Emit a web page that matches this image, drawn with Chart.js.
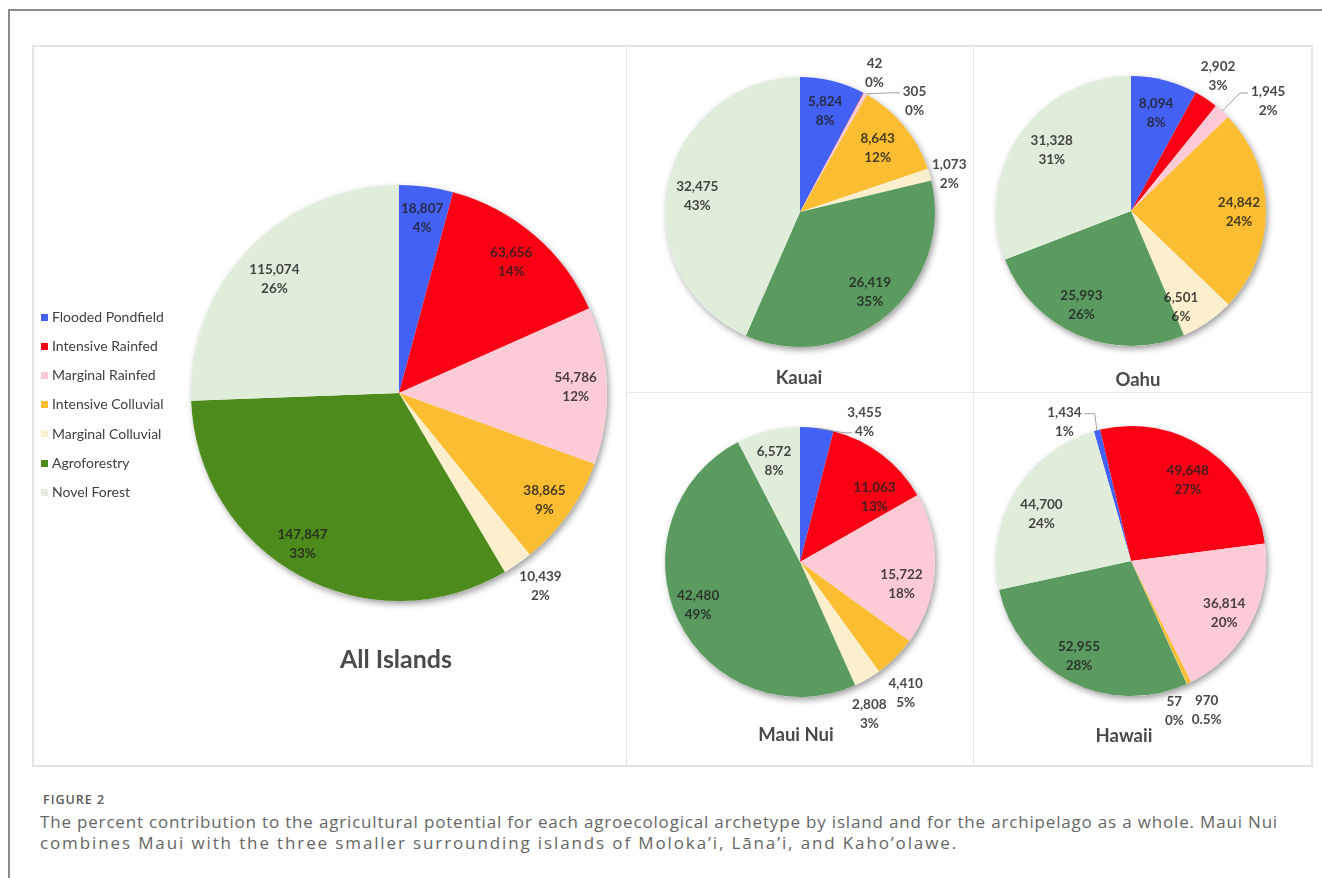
<!DOCTYPE html>
<html>
<head>
<meta charset="utf-8">
<script src="https://cdn.jsdelivr.net/npm/chart.js@4.4.1/dist/chart.umd.min.js"></script>
<style>
  body { margin: 0; background: #fff; width: 1322px; height: 878px; overflow: hidden; position: relative; font-family: Lato, sans-serif; }
  #frame { position: absolute; left: 8px; top: 9px; width: 1400px; height: 900px; border-left: 2px solid #8c8c8c; border-top: 2px solid #8c8c8c; }
  #panel { position: absolute; left: 32px; top: 45px; width: 1277px; height: 718px; border: 2px solid #e4e4e4; }
  .vline { position: absolute; top: 45px; width: 1px; height: 720px; background: #e6e6e6; }
  .hline { position: absolute; left: 626px; top: 392px; width: 685px; height: 1px; background: #e6e6e6; }
  canvas { position: absolute; }
  .title { position: absolute; width: 240px; text-align: center; font-weight: bold; color: #4a4a4a; white-space: nowrap; }
  #legend { position: absolute; left: 40px; top: 0; }
  .item { position: absolute; left: 0; white-space: nowrap; font-size: 14px; line-height: 14px; color: #404040; }
  .item span.sw { position: absolute; left: 1px; width: 7px; height: 7px; }
  .item span.tx { position: absolute; left: 12px; top: 0; }
  #fig { position: absolute; left: 43px; top: 794px; font-family: "Open Sans", sans-serif; font-weight: 600; font-size: 12.5px; line-height: 12px; letter-spacing: 1px; color: #5a5a5a; }
  .cap { position: absolute; left: 40px; font-family: "Open Sans", sans-serif; font-weight: 400; font-size: 17px; line-height: 21px; color: #666; white-space: nowrap; }
</style>
</head>
<body>
<div id="frame"></div>
<div id="panel"></div>
<div class="vline" style="left:626px"></div>
<div class="vline" style="left:973px"></div>
<div class="hline"></div>

<canvas id="allChart" width="600" height="600" style="left:99px;top:93px"></canvas>
<canvas id="kauaiChart" width="360" height="360" style="left:620px;top:32px"></canvas>
<canvas id="oahuChart" width="360" height="360" style="left:951px;top:31px"></canvas>
<canvas id="mauiChart" width="360" height="360" style="left:620px;top:382px"></canvas>
<canvas id="hawaiiChart" width="360" height="360" style="left:951px;top:381px"></canvas>

<div id="legend"></div>

<div class="title" style="left:276px;top:646px;font-size:25px;line-height:25px">All Islands</div>
<div class="title" style="left:679px;top:368px;font-size:18.5px;line-height:18.5px">Kauai</div>
<div class="title" style="left:1018px;top:370px;font-size:18.5px;line-height:18.5px">Oahu</div>
<div class="title" style="left:676px;top:725px;font-size:18.5px;line-height:18.5px">Maui Nui</div>
<div class="title" style="left:1004px;top:726px;font-size:18.5px;line-height:18.5px">Hawaii</div>

<div id="fig">FIGURE 2</div>
<div class="cap" id="cap1" style="top:811px">The percent contribution to the agricultural potential for each agroecological archetype by island and for the archipelago as a whole. Maui Nui</div>
<div class="cap" id="cap2" style="top:832px">combines Maui with the three smaller surrounding islands of Moloka’i, Lāna’i, and Kaho’olawe.</div>

<script>
// Categories (legend order = slice order, clockwise from top)
const categories = ['Flooded Pondfield', 'Intensive Rainfed', 'Marginal Rainfed', 'Intensive Colluvial',
                    'Marginal Colluvial', 'Agroforestry', 'Novel Forest'];

// Areas per island
const allIslands = [18807, 63656, 54786, 38865, 10439, 147847, 115074];
const kauai      = [5824, 42, 305, 8643, 1073, 26419, 32475];
const oahu       = [8094, 2902, 1945, 24842, 6501, 25993, 31328];
const mauiNui    = [3455, 11063, 15722, 4410, 2808, 42480, 6572];
const hawaii     = [1434, 49648, 36814, 970, 57, 52955, 44700];

// Percent labels as printed
const allIslandsPct = ['4%', '14%', '12%', '9%', '2%', '33%', '26%'];
const kauaiPct      = ['8%', '0%', '0%', '12%', '2%', '35%', '43%'];
const oahuPct       = ['8%', '3%', '2%', '24%', '6%', '26%', '31%'];
const mauiNuiPct    = ['4%', '13%', '18%', '5%', '3%', '49%', '8%'];
const hawaiiPct     = ['1%', '27%', '20%', '0.5%', '0%', '28%', '24%'];

// Colours
const islandColors = ['#4461f5', '#fa0015', '#fdcbd5', '#fbbd31', '#fcefcd', '#5c9b5f', '#e0eddb'];
const allColors    = ['#4461f5', '#fa0015', '#fdcbd5', '#fbbd31', '#fcefcd', '#4d8c1c', '#e0eddb'];

// Label placement: radius factor and angle shift (deg) from slice middle
const allLayout    = { r: [0.85, 0.83, 0.85, 0.87, 1.15, 0.86, 0.81], a: [0, 0, 0, 1, -1.5, 4, -1.6] };
const kauaiLayout  = { r: [0.77, 1.17, 1.18, 0.745, 1.14, 0.79, 0.77], a: [0, 0, 17, 0, 2, -1, -3], leader: { 2: 'left0' } };
const oahuLayout   = { r: [0.75, 1.19, 1.3, 0.8, 0.8, 0.79, 0.74], a: [0, -1, 9, 1, 7, 4.7, 3], leader: { 2: 'left0' } };
const mauiLayout   = { r: [1.14, 0.73, 0.77, 1.25, 1.24, 0.82, 0.77], a: [17.6, 11.7, 9.3, 6.2, 5.5, 2.7, -0.8], leader: { 0: 'left1' } };
const hawaiiLayout = { r: [1.14, 0.73, 0.79, 1.24, 1.16, 0.8, 0.75], a: [-11, 0.5, 1, -1.4, 8.4, 2.1, -3], leader: { 0: 'right0' } };

const LINE_H = 19;

// soft shadow under the whole pie
const pieShadow = {
    id: 'pieShadow',
    beforeDatasetsDraw(chart) {
        const arc = chart.getDatasetMeta(0).data[0];
        const p = arc.getProps(['x', 'y', 'outerRadius'], true);
        const ctx = chart.ctx;
        ctx.save();
        ctx.beginPath();
        ctx.arc(p.x, p.y, p.outerRadius, 0, Math.PI * 2);
        ctx.fillStyle = '#ffffff';
        ctx.shadowColor = 'rgba(0,0,0,0.38)';
        ctx.shadowBlur = 6;
        ctx.shadowOffsetX = 2;
        ctx.shadowOffsetY = 3;
        ctx.fill();
        ctx.restore();
    }
};

function labelPlugin(pct, layout) {
    return {
        id: 'pieLabels',
        afterDatasetsDraw(chart) {
            const ctx = chart.ctx;
            const values = chart.data.datasets[0].data;
            ctx.save();
            ctx.font = 'bold 13.5px Lato';
            ctx.textAlign = 'center';
            ctx.textBaseline = 'middle';
            chart.getDatasetMeta(0).data.forEach((arc, i) => {
                const p = arc.getProps(['x', 'y', 'startAngle', 'endAngle', 'outerRadius'], true);
                const mid = (p.startAngle + p.endAngle) / 2;
                const ang = mid + layout.a[i] * Math.PI / 180;
                const rr = p.outerRadius * layout.r[i];
                const lx = p.x + Math.cos(ang) * rr;
                const ly = p.y + Math.sin(ang) * rr;
                const lines = [values[i].toLocaleString('en-US'), pct[i]];
                const ys = [ly - LINE_H / 2, ly + LINE_H / 2];

                const lead = layout.leader && layout.leader[i];
                if (lead) {
                    const k = lead.endsWith('1') ? 1 : 0;
                    const w = ctx.measureText(lines[k]).width;
                    const sx = p.x + Math.cos(mid) * p.outerRadius;
                    const sy = p.y + Math.sin(mid) * p.outerRadius;
                    let ex, bx;
                    if (lead.startsWith('left')) { ex = lx - w / 2 - 3; bx = ex - 8; }
                    else { ex = lx + w / 2 + 3; bx = ex + 10; }
                    const ey = ys[k] + 1;
                    ctx.beginPath();
                    ctx.moveTo(sx, sy);
                    ctx.lineTo(bx, ey);
                    ctx.lineTo(ex, ey);
                    ctx.strokeStyle = '#a0a0a0';
                    ctx.lineWidth = 1;
                    ctx.stroke();
                }
                ctx.fillStyle = 'rgba(32,32,32,0.82)';
                lines.forEach((t, k) => ctx.fillText(t, lx, ys[k]));
            });
            ctx.restore();
        }
    };
}

function makePie(id, values, pct, colors, layout, radius, rotation) {
    new Chart(document.getElementById(id), {
        type: 'pie',
        data: {
            labels: categories,
            datasets: [{
                data: values,
                backgroundColor: colors,
                borderWidth: 0,
                radius: radius,
                rotation: rotation
            }]
        },
        options: {
            responsive: false,
            animation: false,
            events: [],
            radius: radius,
            rotation: rotation,
            plugins: {
                legend: { display: false },
                tooltip: { enabled: false }
            }
        },
        plugins: [pieShadow, labelPlugin(pct, layout)]
    });
}

// legend
const legend = document.getElementById('legend');
categories.forEach((c, i) => {
    const y = 317.3 + 29.17 * i;
    const item = document.createElement('div');
    item.className = 'item';
    item.style.top = (y - 7.4) + 'px';
    item.innerHTML = '<span class="sw" style="top:3.9px;background:' + allColors[i] + '"></span><span class="tx">' + c + '</span>';
    legend.appendChild(item);
});

// stretch caption lines to the width they take in the figure
function fitLine(id, target) {
    const el = document.getElementById(id);
    const n = el.textContent.length;
    const w = el.getBoundingClientRect().width;
    el.style.letterSpacing = ((target - w) / n) + 'px';
}
fitLine('cap1', 1238);
fitLine('cap2', 918);

makePie('allChart', allIslands, allIslandsPct, allColors, allLayout, 208, 0);
makePie('kauaiChart', kauai, kauaiPct, islandColors, kauaiLayout, 135, 0);
makePie('oahuChart', oahu, oahuPct, islandColors, oahuLayout, 135, 0);
makePie('mauiChart', mauiNui, mauiNuiPct, islandColors, mauiLayout, 135, 0);
makePie('hawaiiChart', hawaii, hawaiiPct, islandColors, hawaiiLayout, 135, -16);
</script>
</body>
</html>
